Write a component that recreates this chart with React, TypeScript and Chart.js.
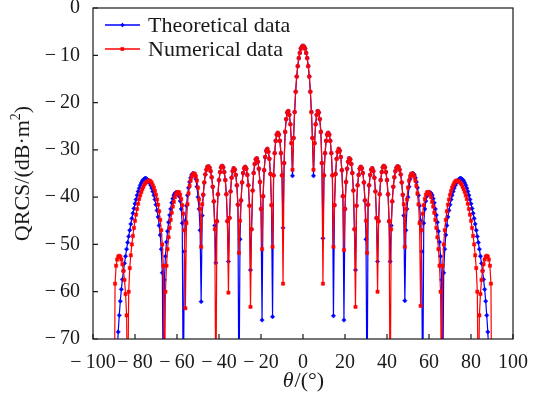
import React, { useEffect, useRef } from "react";
import { Chart, registerables } from "chart.js";

Chart.register(...registerables);

// Sampling grid of the angle axis (degrees)
const thetaStart = -90;
const thetaStep = 0.5;

const xTickValues = [-100, -80, -60, -40, -20, 0, 20, 40, 60, 80, 100];
const yTickValues = [0, -10, -20, -30, -40, -50, -60, -70];
const seriesNames = ["Theoretical data", "Numerical data"];
const xTitleSymbol = "θ";
const xTitleUnit = "/(°)";
const yTitleMain = "QRCS/(dB·m";
const yTitleSup = "2";
const yTitleEnd = ")";

// Theoretical data, theta = -90 .. 0 (step 0.5)
const theoreticalLeft = [
  -90, -84, -78, -73, -68.5, -65, -62, -59.5, -57.4, -55.6,
  -54, -52.5, -51, -49.6, -48.3, -47, -45.7, -44.5, -43.4, -42.4,
  -41.4, -40.5, -39.6, -38.8, -38.1, -37.5, -37, -36.6, -36.3, -36.1,
  -36, -36.1, -36.3, -36.6, -37, -37.5, -38.1, -38.8, -39.6, -40.5,
  -41.6, -42.8, -44.2, -46, -48, -51, -56, -85, -57.5, -52.5,
  -49.5, -47.2, -45.3, -43.8, -42.5, -41.2, -40.3, -39.6, -39.2, -39,
  -39, -39.2, -39.8, -40.8, -42.5, -45.5, -85, -51.5, -45, -41.8,
  -39.6, -38, -36.8, -35.9, -35.3, -35, -35, -35.4, -36.2, -37.8,
  -40, -42.5, -47, -62.1, -43.9, -39.5, -36.9, -35.2, -34.2, -33.6,
  -33.5, -33.8, -34.5, -35.8, -37.8, -40.9, -46, -53.9, -45.1, -39.4,
  -36.4, -34.7, -33.7, -33.4, -33.7, -34.7, -36.4, -39.4, -45.1, -53.6,
  -44.4, -38.8, -35.9, -34.5, -33.9, -34.2, -35.3, -37.5, -41.6, -85,
  -48.9, -40.7, -36.9, -34.9, -33.9, -33.6, -34, -35.3, -37.5, -41.8,
  -55.4, -46.8, -38.6, -34.9, -33, -32, -31.8, -32.5, -34, -36.8,
  -42.5, -66, -39.8, -34.3, -31.5, -30.2, -29.8, -30.4, -31.9, -35.1,
  -41.7, -65.3, -35.4, -30.7, -28.1, -26.8, -26.4, -26.8, -28.1, -30.7,
  -35.4, -46.5, -32.8, -26.2, -23.5, -22.1, -21.8, -22.6, -24.6, -28.6,
  -35.5, -27.5, -22, -17.7, -14.5, -12.3, -10.6, -9.5, -8.6, -8.2,
  -8,
];

// Theoretical data, theta = 0.5 .. 90 (step 0.5)
const theoreticalRight = [
  -8.2, -8.6, -9.5, -10.6, -12.3, -14.5, -17.7, -22, -27.5, -35.5,
  -28.6, -24.6, -22.6, -21.8, -22.1, -23.5, -26.2, -32.8, -48.7, -35.4,
  -30.7, -28.1, -26.8, -26.4, -26.8, -28.1, -30.7, -35.4, -65.1, -41.7,
  -35.1, -31.9, -30.4, -29.8, -30.2, -31.5, -34.3, -39.8, -66, -42.5,
  -36.8, -34, -32.5, -31.8, -32, -33, -34.9, -38.6, -46.8, -55.4,
  -41.8, -37.5, -35.3, -34, -33.6, -33.9, -34.9, -36.9, -40.7, -48.9,
  -85, -41.6, -37.5, -35.3, -34.2, -33.9, -34.5, -35.9, -38.8, -44.4,
  -53.6, -45.1, -39.4, -36.4, -34.7, -33.7, -33.4, -33.7, -34.7, -36.4,
  -39.4, -45.1, -53.6, -46, -40.9, -37.8, -35.8, -34.5, -33.8, -33.5,
  -33.6, -34.2, -35.2, -36.9, -39.5, -43.9, -61.9, -47, -42.5, -40,
  -37.8, -36.2, -35.4, -35, -35, -35.3, -35.9, -36.8, -38, -39.6,
  -41.8, -45, -51.5, -85, -45.5, -42.5, -40.8, -39.8, -39.2, -39,
  -39, -39.2, -39.6, -40.3, -41.2, -42.5, -43.8, -45.3, -47.2, -49.5,
  -52.5, -57.5, -85, -56, -51, -48, -46, -44.2, -42.8, -41.6,
  -40.5, -39.6, -38.8, -38.1, -37.5, -37, -36.6, -36.3, -36.1, -36,
  -36.1, -36.3, -36.6, -37, -37.5, -38.1, -38.8, -39.6, -40.5, -41.4,
  -42.4, -43.4, -44.5, -45.7, -47, -48.3, -49.6, -51, -52.5, -54,
  -55.6, -57.4, -59.5, -62, -65, -68.5, -73, -78, -84, -90,
];

// Numerical data, theta = -90 .. 0 (step 0.5)
const numericalLeft = [
  -100, -58.3, -54.5, -53.2, -52.6, -52.4, -52.6, -53.2, -54.2, -55.6,
  -57.5, -60.5, -65, -85, -60, -55, -52.3, -50, -48.2, -46.5,
  -45, -43.7, -42.5, -41.4, -40.4, -39.6, -38.9, -38.3, -37.8, -37.3,
  -37, -36.8, -36.6, -36.5, -36.5, -36.7, -37, -37.5, -38, -38.7,
  -39.5, -40.5, -41.6, -43, -44.8, -47, -50, -54.5, -85, -60,
  -54.5, -51, -48.5, -46.5, -44.8, -43.3, -42, -41, -40, -39.4,
  -39, -38.9, -39, -39.5, -40.4, -41.7, -43.5, -47, -63.5, -45.5,
  -41.5, -39.2, -37.6, -36.5, -35.7, -35.2, -35, -35.1, -35.6, -36.5,
  -38, -40.5, -42.5, -50.5, -41.5, -39.5, -36.9, -35.2, -34.2, -33.6,
  -33.5, -33.8, -34.5, -35.8, -37.8, -40.9, -46.8, -85, -45.1, -39.4,
  -36.4, -34.7, -33.7, -33.4, -33.7, -34.7, -36.4, -39.4, -45.1, -60.2,
  -44.4, -38.8, -35.9, -34.5, -33.9, -34.2, -35.3, -37.5, -41.6, -51.8,
  -45, -40.7, -36.9, -34.9, -33.9, -33.6, -34, -35.3, -37.5, -41.8,
  -63.2, -46.8, -38.6, -34.9, -33, -32, -31.8, -32.5, -34, -36.8,
  -42.5, -51, -39.8, -34.3, -31.5, -30.2, -29.8, -30.4, -31.9, -35.1,
  -41.7, -50.5, -35.4, -30.7, -28.1, -26.8, -26.4, -26.8, -28.1, -30.7,
  -35.4, -58.3, -32.8, -26.2, -23.5, -22.1, -21.8, -22.6, -24.6, -28.6,
  -34.2, -27.5, -22, -17.7, -14.5, -12.3, -10.6, -9.5, -8.6, -8.2,
  -8,
];

// Numerical data, theta = 0.5 .. 90 (step 0.5)
const numericalRight = [
  -8.2, -8.6, -9.5, -10.6, -12.3, -14.5, -17.7, -22, -27.5, -34.2,
  -28.6, -24.6, -22.6, -21.8, -22.1, -23.5, -26.2, -32.8, -58.3, -35.4,
  -30.7, -28.1, -26.8, -26.4, -26.8, -28.1, -30.7, -35.4, -50.5, -41.7,
  -35.1, -31.9, -30.4, -29.8, -30.2, -31.5, -34.3, -39.8, -51.2, -42.5,
  -36.8, -34, -32.5, -31.8, -32, -33, -34.9, -38.6, -46.8, -63.2,
  -41.8, -37.5, -35.3, -34, -33.6, -33.9, -34.9, -36.9, -40.7, -45,
  -51.8, -41.6, -37.5, -35.3, -34.2, -33.9, -34.5, -35.9, -38.8, -44.4,
  -60, -45.1, -39.4, -36.4, -34.7, -33.7, -33.4, -33.7, -34.7, -36.4,
  -39.4, -45.1, -85, -46.8, -40.9, -37.8, -35.8, -34.5, -33.8, -33.5,
  -33.6, -34.2, -35.2, -36.9, -39.5, -41.5, -50.5, -42.5, -40.5, -38,
  -36.5, -35.6, -35.1, -35, -35.2, -35.7, -36.5, -37.6, -39.2, -41.5,
  -45.5, -63, -47, -43.5, -41.7, -40.4, -39.5, -39, -38.9, -39,
  -39.4, -40, -41, -42, -43.3, -44.8, -46.5, -48.5, -51, -54.5,
  -60, -85, -54.5, -50, -47, -44.8, -43, -41.6, -40.5, -39.5,
  -38.7, -38, -37.5, -37, -36.7, -36.5, -36.5, -36.6, -36.8, -37,
  -37.3, -37.8, -38.3, -38.9, -39.6, -40.4, -41.4, -42.5, -43.7, -45,
  -46.5, -48.2, -50, -52.3, -55, -60, -85, -65, -60.5, -57.5,
  -55.6, -54.2, -53.2, -52.6, -52.4, -52.6, -53.2, -54.5, -58.3, -100,
];

const theoretical = [...theoreticalLeft, ...theoreticalRight];
const numerical = [...numericalLeft, ...numericalRight];

const BLUE = "#0000ff";
const RED = "#ff0000";
const INK = "#1a1a1a";
const FONT = "'Liberation Serif', 'Times New Roman', serif";

const toPoints = (vals: number[]) =>
  vals.map((y, i) => ({ x: thetaStart + i * thetaStep, y }));

const fmt = (v: number) => (v < 0 ? "\u2212\u2009" + Math.abs(v) : String(v));

const decorPlugin = {
  id: "decor",
  afterDraw(chart: any) {
    const { ctx, chartArea: a, scales } = chart;
    ctx.save();
    // frame
    ctx.strokeStyle = INK;
    ctx.lineWidth = 1.2;
    ctx.strokeRect(a.left, a.top, a.right - a.left, a.bottom - a.top);
    // inward ticks
    ctx.beginPath();
    for (const v of xTickValues) {
      const px = scales.x.getPixelForValue(v);
      ctx.moveTo(px, a.bottom);
      ctx.lineTo(px, a.bottom - 5);
    }
    for (const v of yTickValues) {
      const py = scales.y.getPixelForValue(v);
      ctx.moveTo(a.left, py);
      ctx.lineTo(a.left + 5, py);
    }
    ctx.stroke();

    // legend
    const colors = [BLUE, RED];
    const styles = ["rectRot", "rect"];
    ctx.font = `22px ${FONT}`;
    ctx.textBaseline = "middle";
    seriesNames.forEach((name, i) => {
      const y = 25 + i * 24;
      ctx.strokeStyle = colors[i];
      ctx.lineWidth = 1.4;
      ctx.beginPath();
      ctx.moveTo(105, y);
      ctx.lineTo(140, y);
      ctx.stroke();
      ctx.fillStyle = colors[i];
      if (styles[i] === "rect") {
        ctx.fillRect(120.5, y - 1.8, 3.6, 3.6);
      } else {
        ctx.beginPath();
        ctx.moveTo(122.5, y - 2.2);
        ctx.lineTo(124.7, y);
        ctx.lineTo(122.5, y + 2.2);
        ctx.lineTo(120.3, y);
        ctx.closePath();
        ctx.fill();
      }
      ctx.fillStyle = INK;
      ctx.textAlign = "left";
      ctx.fillText(name, 148, y + 1);
    });

    // x title
    const cx = (a.left + a.right) / 2;
    ctx.fillStyle = INK;
    ctx.textBaseline = "middle";
    ctx.font = `italic 22px ${FONT}`;
    const wSym = ctx.measureText(xTitleSymbol).width;
    ctx.font = `22px ${FONT}`;
    const wUnit = ctx.measureText(xTitleUnit).width;
    const startX = cx - (wSym + wUnit) / 2;
    ctx.font = `italic 22px ${FONT}`;
    ctx.textAlign = "left";
    ctx.fillText(xTitleSymbol, startX, 381);
    ctx.font = `22px ${FONT}`;
    ctx.fillText(xTitleUnit, startX + wSym + 1, 381);

    // y title (rotated)
    ctx.save();
    ctx.translate(22, (a.top + a.bottom) / 2);
    ctx.rotate(-Math.PI / 2);
    ctx.font = `22px ${FONT}`;
    const w1 = ctx.measureText(yTitleMain).width;
    const w3 = ctx.measureText(yTitleEnd).width;
    ctx.font = `14px ${FONT}`;
    const w2 = ctx.measureText(yTitleSup).width;
    const sx = -(w1 + w2 + w3) / 2;
    ctx.textAlign = "left";
    ctx.textBaseline = "alphabetic";
    ctx.font = `22px ${FONT}`;
    ctx.fillText(yTitleMain, sx, 7);
    ctx.font = `14px ${FONT}`;
    ctx.fillText(yTitleSup, sx + w1, -2);
    ctx.font = `22px ${FONT}`;
    ctx.fillText(yTitleEnd, sx + w1 + w2, 7);
    ctx.restore();

    ctx.restore();
  },
};

export default function App() {
  const ref = useRef<HTMLCanvasElement | null>(null);
  useEffect(() => {
    document.body.style.margin = "0";
    const canvas = ref.current;
    if (!canvas) return;
    const chart = new Chart(canvas, {
      type: "line",
      data: {
        datasets: [
          {
            label: seriesNames[0],
            data: toPoints(theoretical),
            borderColor: BLUE,
            backgroundColor: BLUE,
            borderWidth: 1.2,
            pointStyle: "rectRot",
            pointRadius: 2.2,
            pointBorderWidth: 0.5,
            tension: 0,
            order: 2,
          },
          {
            label: seriesNames[1],
            data: toPoints(numerical),
            borderColor: RED,
            backgroundColor: RED,
            borderWidth: 1.2,
            pointStyle: "rect",
            pointRadius: 2.3,
            pointBorderWidth: 0.5,
            tension: 0,
            order: 1,
          },
        ],
      },
      options: {
        animation: false,
        responsive: false,
        devicePixelRatio: 1,
        layout: { padding: { left: 0, right: 25, top: 8, bottom: 0 } },
        plugins: { legend: { display: false }, tooltip: { enabled: false } },
        scales: {
          x: {
            type: "linear",
            min: -100,
            max: 100,
            afterBuildTicks: (s: any) => {
              s.ticks = xTickValues.map((v) => ({ value: v }));
            },
            afterFit: (s: any) => {
              s.height = 59;
              s.paddingLeft = 0;
              s.paddingRight = 0;
            },
            grid: { display: false },
            border: { display: false },
            ticks: {
              padding: 4,
              color: INK,
              autoSkip: false,
              maxRotation: 0,
              font: { family: FONT, size: 20 },
              callback: (v: any) => fmt(Number(v)),
            },
          },
          y: {
            type: "linear",
            min: -70,
            max: 0,
            afterBuildTicks: (s: any) => {
              s.ticks = yTickValues.map((v) => ({ value: v }));
            },
            afterFit: (s: any) => {
              s.width = 93;
              s.paddingTop = 0;
              s.paddingBottom = 0;
            },
            grid: { display: false },
            border: { display: false },
            ticks: {
              padding: 5,
              color: INK,
              autoSkip: false,
              font: { family: FONT, size: 20 },
              callback: (v: any) => fmt(Number(v)),
            },
          },
        },
      },
      plugins: [decorPlugin],
    });
    return () => chart.destroy();
  }, []);
  return (
    <div style={{ width: 538, height: 398 }}>
      <canvas ref={ref} width={538} height={398} />
    </div>
  );
}
